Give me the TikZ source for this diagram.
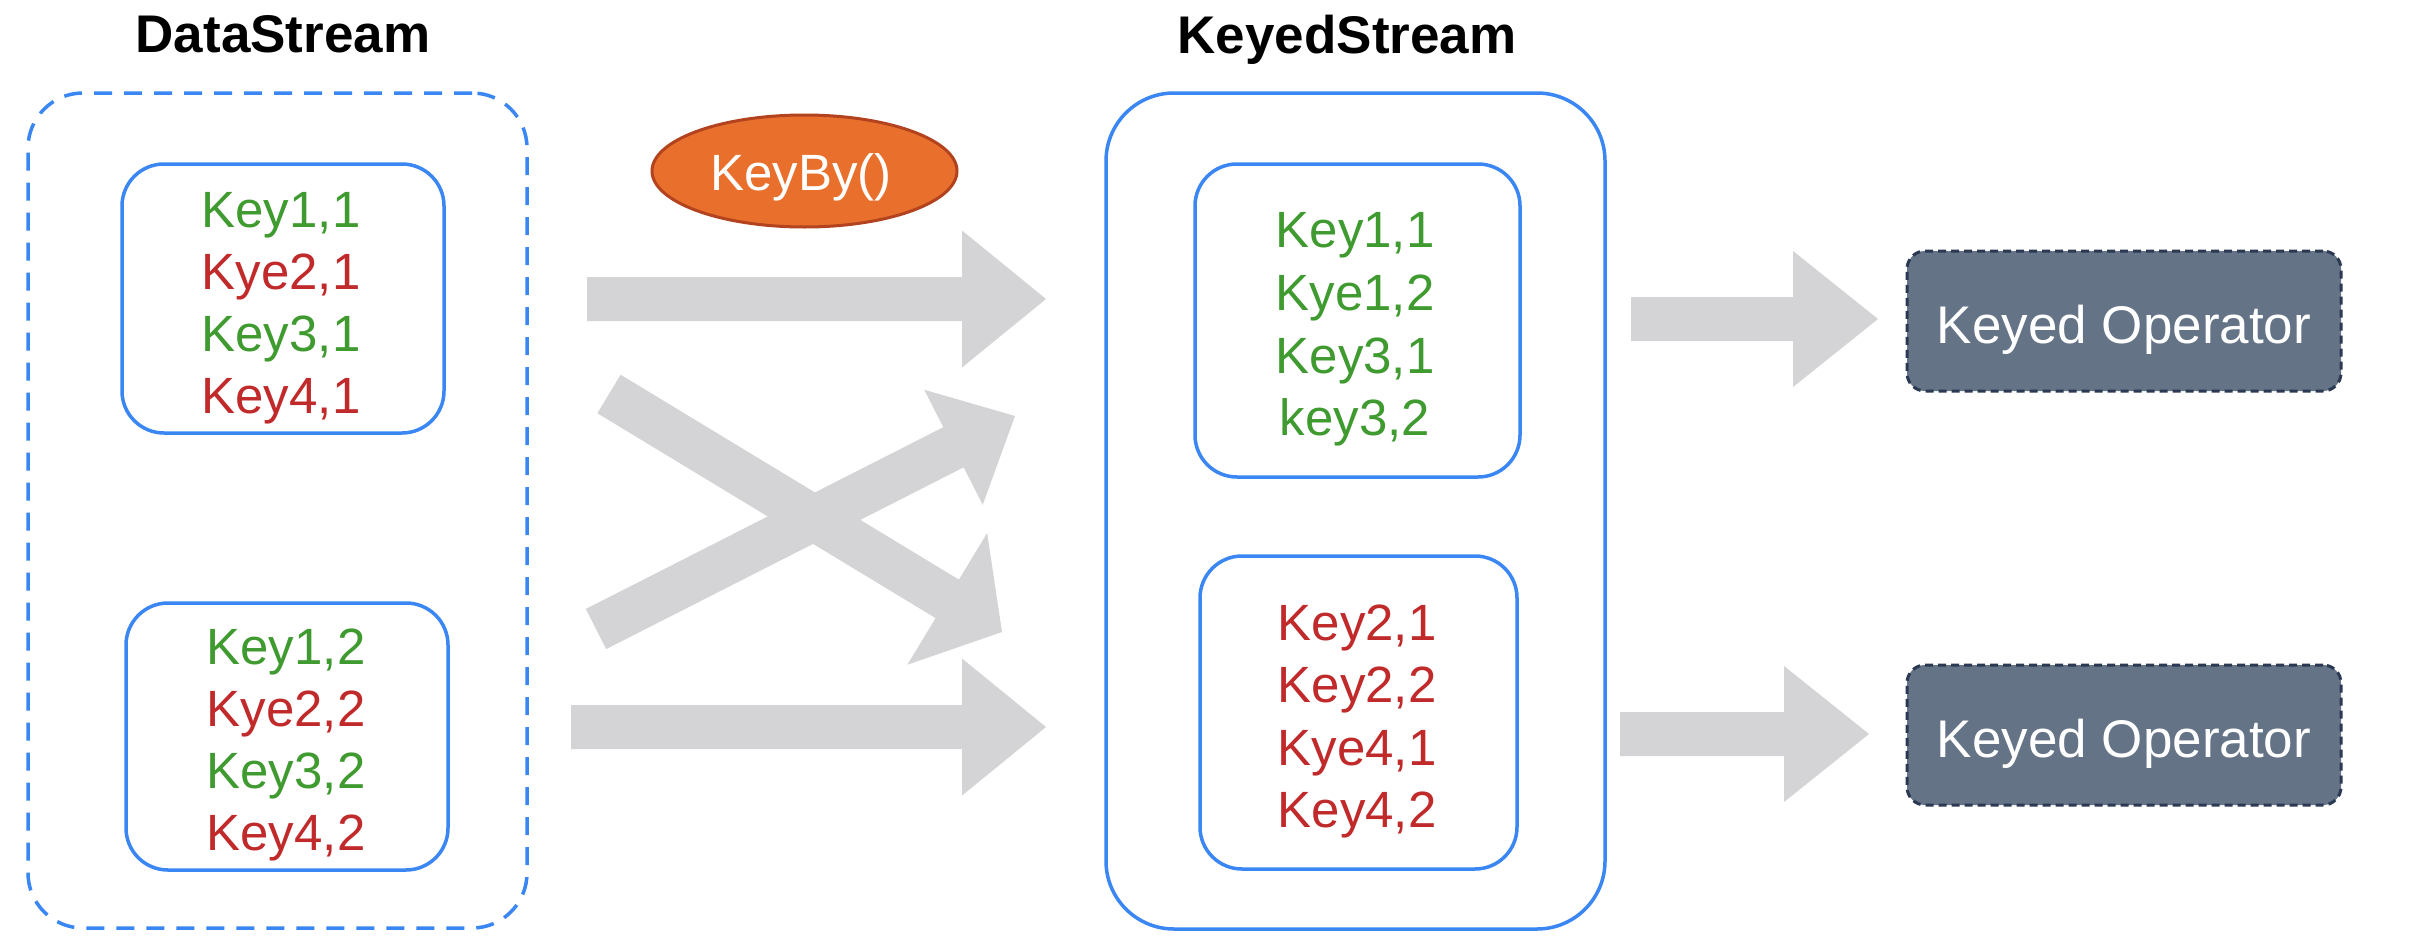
\documentclass[tikz,border=0pt]{standalone}
\usepackage{fontspec}
\setmainfont{Liberation Sans}
\usetikzlibrary{calc,shapes.geometric}
\definecolor{boxblue}{HTML}{3A86F2}
\definecolor{keygreen}{HTML}{3F9A2F}
\definecolor{keyred}{HTML}{C12A2A}
\definecolor{arrowgray}{HTML}{D4D4D6}
\definecolor{keybyfill}{HTML}{E8702C}
\definecolor{keybyline}{HTML}{B3431F}
\definecolor{opfill}{HTML}{647386}
\definecolor{opline}{HTML}{2B3A52}
% start, end, shaft half width, head length, head half width
\newcommand\blockarrow[5]{%
  \coordinate (ba-b) at ($(#2)!#4!(#1)$);
  \fill[arrowgray] ($(#1)!#3!90:(#2)$) -- ($(ba-b)!#3!-90:(#1)$) -- ($(ba-b)!#5!-90:(#1)$)
    -- (#2) -- ($(ba-b)!#5!90:(#1)$) -- ($(ba-b)!#3!90:(#1)$) -- ($(#1)!#3!-90:(#2)$) -- cycle;
}
\begin{document}
\begin{tikzpicture}[x=0.5pt,y=-0.5pt,
  dashbox/.style={draw=boxblue, line width=1.75pt, dash pattern=on 9pt off 6pt, rounded corners=27.5pt, inner sep=0pt, outer sep=0pt},
  outerbox/.style={draw=boxblue, line width=1.75pt, rounded corners=34pt, inner sep=0pt, outer sep=0pt},
  innerbox/.style={draw=boxblue, line width=1.75pt, rounded corners=21pt, inner sep=0pt, outer sep=0pt},
  opbox/.style={draw=opline, fill=opfill, line width=1.5pt, dash pattern=on 4pt off 2.5pt, rounded corners=9pt, inner sep=0pt, outer sep=0pt},
  keyby/.style={ellipse, draw=keybyline, fill=keybyfill, line width=1.5pt, inner sep=0pt, outer sep=0pt},
  keytext/.style={anchor=base, inner sep=0pt, font=\fontsize{25.5}{30}\selectfont},
  titletext/.style={anchor=base, inner sep=0pt, font=\fontsize{26.5}{30}\selectfont\bfseries},
  optext/.style={anchor=base, inner sep=0pt, text=white, font=\fontsize{26.5}{30}\selectfont},
  bytext/.style={anchor=base, inner sep=0pt, text=white, font=\fontsize{25.5}{30}\selectfont},
  gk/.style={keytext, text=keygreen},
  rk/.style={keytext, text=keyred}]
\useasboundingbox (0,0) rectangle (2414,942);
\fill[white] (0,0) rectangle (2414,942);

% titles
\node[titletext] (dstitle) at (283,52) {DataStream};
\node[titletext] (kstitle) at (1347,53) {KeyedStream};

% DataStream
\node[dashbox, minimum width=249.5pt, minimum height=417.5pt] (ds) at (277.5,510.5) {};
\node[innerbox, minimum width=161pt, minimum height=134.5pt] (ds1) at (283,298.5) {};
\node[innerbox, minimum width=161pt, minimum height=133.5pt] (ds2) at (287,736.5) {};
\node[gk] (d11) at (281,227) {Key1,1};
\node[rk] (d12) at (281,289) {Kye2,1};
\node[gk] (d13) at (281,351) {Key3,1};
\node[rk] (d14) at (281,413) {Key4,1};
\node[gk] (d21) at (286,664) {Key1,2};
\node[rk] (d22) at (286,726) {Kye2,2};
\node[gk] (d23) at (286,788) {Key3,2};
\node[rk] (d24) at (286,850) {Key4,2};

% KeyedStream
\node[outerbox, minimum width=249.5pt, minimum height=418pt] (ks) at (1355.5,511) {};
\node[innerbox, minimum width=162.5pt, minimum height=156.5pt] (ks1) at (1357.5,320.5) {};
\node[innerbox, minimum width=158.5pt, minimum height=156.5pt] (ks2) at (1358.5,712.5) {};
\node[gk] (k11) at (1355,247) {Key1,1};
\node[gk] (k12) at (1355,310) {Kye1,2};
\node[gk] (k13) at (1355,373) {Key3,1};
\node[gk] (k14) at (1355,435) {key3,2};
\node[rk] (k21) at (1357,640) {Key2,1};
\node[rk] (k22) at (1357,702) {Key2,2};
\node[rk] (k23) at (1357,765) {Kye4,1};
\node[rk] (k24) at (1357,827) {Key4,2};

% KeyBy
\node[keyby, minimum width=152.5pt, minimum height=56pt] (kb) at (804.5,171) {};
\node[bytext] (kbt) at (801,190) {KeyBy()};

% operators
\node[opbox, minimum width=217pt, minimum height=70pt] (op1) at (2124,321) {};
\node[optext] (op1t) at (2124,343) {Keyed Operator};
\node[opbox, minimum width=217pt, minimum height=70pt] (op2) at (2124,735) {};
\node[optext] (op2t) at (2124,757) {Keyed Operator};

% block arrows
\coordinate (a1s) at (587,299);  \coordinate (a1e) at (1046,299);
\coordinate (aAs) at (609,394);  \coordinate (aAe) at (1002,632);
\coordinate (aBs) at (596,629);  \coordinate (aBe) at (1015,416);
\coordinate (a4s) at (571,727);  \coordinate (a4e) at (1046,727);
\coordinate (r1s) at (1631,319); \coordinate (r1e) at (1878,319);
\coordinate (r2s) at (1620,734); \coordinate (r2e) at (1869,734);
\blockarrow{a1s}{a1e}{11pt}{42pt}{34.25pt}
\blockarrow{aAs}{aAe}{11.25pt}{32pt}{38.5pt}
\blockarrow{aBs}{aBe}{11.25pt}{34.5pt}{32.25pt}
\blockarrow{a4s}{a4e}{11pt}{42pt}{34.25pt}
\blockarrow{r1s}{r1e}{11pt}{42.5pt}{34pt}
\blockarrow{r2s}{r2e}{11pt}{42.5pt}{34pt}
\end{tikzpicture}
\end{document}
